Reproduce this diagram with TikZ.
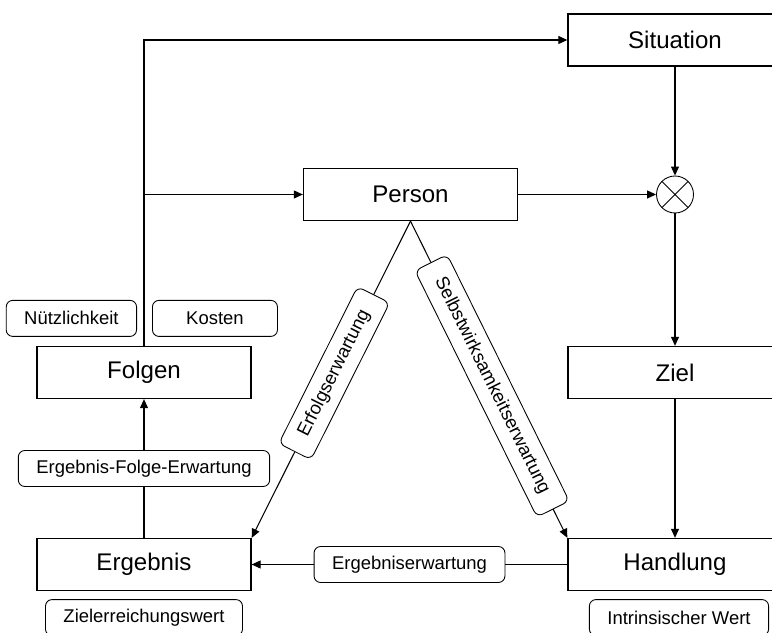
\documentclass[tikz,border=0pt]{standalone}
\usepackage{fontspec}
\setmainfont{Liberation Sans}
\usetikzlibrary{arrows.meta,positioning}

\begin{document}
\begin{tikzpicture}[line width=0.6pt, >={Triangle[length=1.8mm,width=1.6mm]},
        box/.style={draw, line width=0.75pt, minimum width=4.28cm, minimum height=1.04cm, font=\fontsize{13.7}{16}\selectfont},
        lab/.style={draw, line width=0.5pt, rounded corners=1.3mm, fill=white, minimum height=0.72cm, inner xsep=0.36cm, font=\fontsize{10.5}{12}\selectfont}]
        \useasboundingbox (0,0) rectangle (15.44,12.64);
        \clip (0,0) rectangle (15.44,12.64);

        \node[box] (S) at (13.5,11.84) {Situation};
        \node[box] (P) at (8.21,8.75) {Person};
        \node[draw, circle, line width=0.5pt, minimum size=0.74cm,
            path picture={\draw[line width=0.5pt] (path picture bounding box.north west) -- (path picture bounding box.south east)
                (path picture bounding box.north east) -- (path picture bounding box.south west);}] (M) at (13.5,8.75) {};
        \node[box] (Z) at (13.5,5.19) {Ziel};
        \node[box] (H) at (13.5,1.35) {Handlung};
        \node[box] (F) at (2.88,5.19) {Folgen};
        \node[box] (E) at (2.88,1.35) {Ergebnis};

        % Werte an den Kaesten
        \node[lab, minimum width=2.5cm, above left=0.18cm and 0.14cm of F.north] (N) {Nützlichkeit};
        \node[lab, minimum width=2.5cm, above right=0.18cm and 0.16cm of F.north] (K) {Kosten};
        \node[lab, below=0.16cm of E] (EW) {Zielerreichungswert};
        \node[lab, below=0.16cm of H, xshift=0.08cm] (IW) {Intrinsischer Wert};

        \draw[->] (F.north) |- (S.west);
        \draw[->] (F.north |- P.west) -- (P.west);
        \draw[->] (P.east) -- (M.west);
        \draw[->] (S.south) -- (M.north);
        \draw[->] (M.south) -- (Z.north);
        \draw[->] (Z.south) -- (H.north);

        \draw[->] (P.south) -- (E.north east) node[lab, sloped, pos=0.48] {Erfolgserwartung};
        \draw[->] (P.south) -- (H.north west) node[lab, sloped, pos=0.52] {Selbstwirksamkeitserwartung};
        \draw[->] (H.west) -- (E.east) node[lab, midway] {Ergebniserwartung};
        \draw[->] (E.north) -- (F.south) node[lab, midway] {Ergebnis-Folge-Erwartung};
    \end{tikzpicture}
\end{document}
